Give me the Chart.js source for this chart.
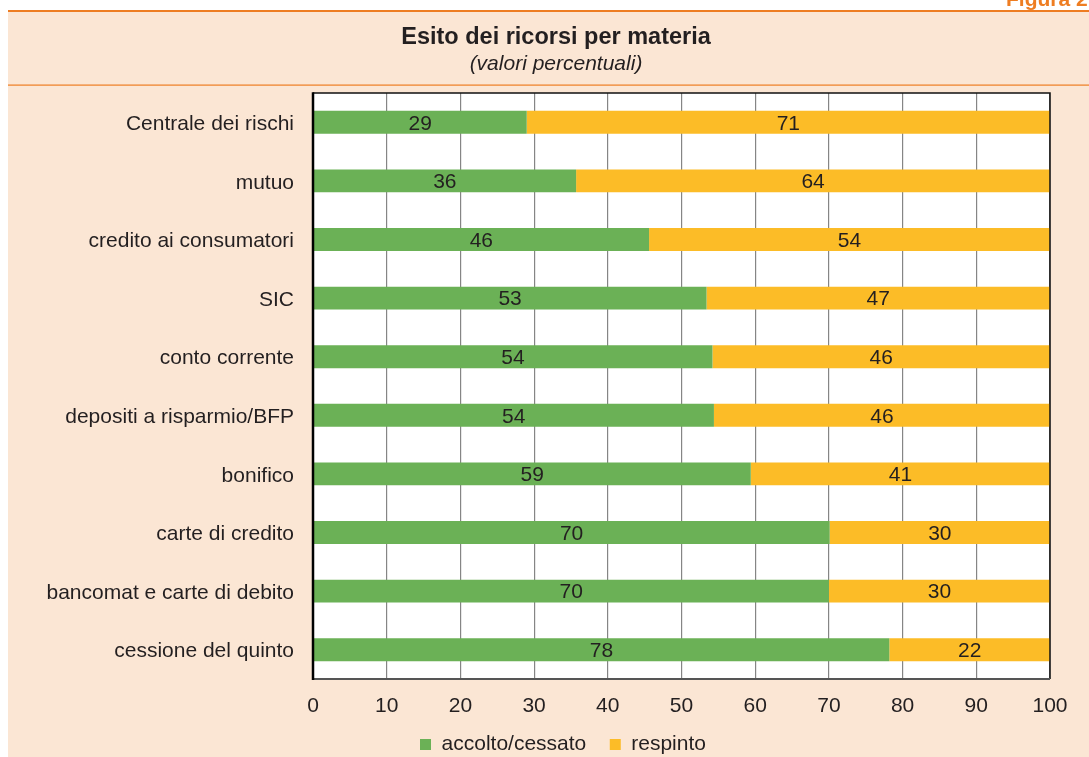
<!DOCTYPE html>
<html lang="it">
<head>
<meta charset="utf-8">
<title>Esito dei ricorsi per materia</title>
<script src="https://cdn.jsdelivr.net/npm/chart.js@4.4.1/dist/chart.umd.min.js"></script>
<style>
  html, body { margin: 0; padding: 0; background: #ffffff; }
  #wrap { width: 1089px; height: 757px; position: relative; }
</style>
</head>
<body>
<div id="wrap"><canvas id="chart"></canvas></div>
<script>
// Dati (valori percentuali)
const categorie = [
  'Centrale dei rischi',
  'mutuo',
  'credito ai consumatori',
  'SIC',
  'conto corrente',
  'depositi a risparmio/BFP',
  'bonifico',
  'carte di credito',
  'bancomat e carte di debito',
  'cessione del quinto'
];
const accolto = [29.0, 35.7, 45.6, 53.4, 54.2, 54.4, 59.4, 70.1, 70.0, 78.2];
const respinto = [71.0, 64.3, 54.4, 46.6, 45.8, 45.6, 40.6, 29.9, 30.0, 21.8];
const etichetteAccolto = [29, 36, 46, 53, 54, 54, 59, 70, 70, 78];
const etichetteRespinto = [71, 64, 54, 47, 46, 46, 41, 30, 30, 22];
const tickX = [0, 10, 20, 30, 40, 50, 60, 70, 80, 90, 100];
const titolo = 'Esito dei ricorsi per materia';
const sottotitolo = '(valori percentuali)';

const FONT = "'Liberation Sans', Arial, Helvetica, sans-serif";
const TESTO = '#231f20';
const PESCA = '#fbe6d4';
const ARANCIO = '#ee7d22';

/**
 * Sfondo, cornice e intestazione della figura
 */
const cornice = {
  id: 'cornice',
  afterLayout(chart) {
    // legenda leggermente spostata a destra come nell'originale
    if (chart.legend) {
      chart.legend.left += 23;
      chart.legend.right += 23;
    }
  },
  beforeDraw(chart) {
    const ctx = chart.ctx;
    const a = chart.chartArea;
    ctx.save();
    ctx.fillStyle = '#ffffff';
    ctx.fillRect(0, 0, chart.width, chart.height);
    ctx.fillStyle = PESCA;
    ctx.fillRect(8, 11, chart.width - 8, chart.height - 11);
    // linea superiore
    ctx.fillStyle = ARANCIO;
    ctx.fillRect(8, 10, chart.width - 8, 2);
    // linea sotto il titolo
    ctx.fillRect(8, 84.5, chart.width - 8, 1.2);
    // etichetta figura
    ctx.font = 'bold 21px ' + FONT;
    ctx.textAlign = 'left';
    ctx.textBaseline = 'alphabetic';
    ctx.fillText('Figura 2.', 1006, 6);
    // titolo e sottotitolo
    ctx.fillStyle = TESTO;
    ctx.textAlign = 'center';
    ctx.textBaseline = 'middle';
    ctx.font = 'bold 23.5px ' + FONT;
    ctx.fillText(titolo, 556, 38);
    ctx.font = 'italic 21px ' + FONT;
    ctx.fillText(sottotitolo, 556, 64);
    // area del grafico
    ctx.fillStyle = '#ffffff';
    ctx.fillRect(a.left, a.top, a.right - a.left, a.bottom - a.top);
    ctx.restore();
  },
  afterDraw(chart) {
    const ctx = chart.ctx;
    const a = chart.chartArea;
    ctx.save();
    ctx.strokeStyle = '#111111';
    ctx.lineWidth = 1.5;
    ctx.beginPath();
    ctx.moveTo(a.left, a.top);
    ctx.lineTo(a.right, a.top);
    ctx.lineTo(a.right, a.bottom);
    ctx.stroke();
    ctx.strokeStyle = '#555555';
    ctx.lineWidth = 2;
    ctx.beginPath();
    ctx.moveTo(a.left, a.bottom);
    ctx.lineTo(a.right, a.bottom);
    ctx.stroke();
    ctx.strokeStyle = '#000000';
    ctx.lineWidth = 2.5;
    ctx.beginPath();
    ctx.moveTo(a.left, a.top - 0.75);
    ctx.lineTo(a.left, a.bottom + 1);
    ctx.stroke();
    ctx.restore();
  }
};

/**
 * Valori al centro di ogni barra
 */
const etichetteBarre = {
  id: 'etichetteBarre',
  afterDatasetsDraw(chart) {
    const ctx = chart.ctx;
    const testi = [etichetteAccolto, etichetteRespinto];
    ctx.save();
    ctx.font = '21px ' + FONT;
    ctx.fillStyle = TESTO;
    ctx.textAlign = 'center';
    ctx.textBaseline = 'middle';
    chart.data.datasets.forEach((ds, i) => {
      const meta = chart.getDatasetMeta(i);
      meta.data.forEach((bar, j) => {
        const p = bar.getCenterPoint();
        ctx.fillText(String(testi[i][j]), p.x, p.y + 1.5);
      });
    });
    ctx.restore();
  }
};

new Chart(document.getElementById('chart'), {
  type: 'bar',
  data: {
    labels: categorie,
    datasets: [
      {
        label: 'accolto/cessato',
        data: accolto,
        backgroundColor: '#6bb156',
        borderWidth: 0,
        categoryPercentage: 1,
        barPercentage: 0.39
      },
      {
        label: 'respinto',
        data: respinto,
        backgroundColor: '#fcbc27',
        borderWidth: 0,
        categoryPercentage: 1,
        barPercentage: 0.39
      }
    ]
  },
  options: {
    indexAxis: 'y',
    responsive: true,
    maintainAspectRatio: false,
    animation: false,
    layout: {
      padding: { top: 93, left: 30, right: 39, bottom: -8 }
    },
    plugins: {
      legend: {
        position: 'bottom',
        labels: {
          color: TESTO,
          font: { family: FONT, size: 21 },
          boxWidth: 11,
          boxHeight: 11,
          padding: 6,
          generateLabels: (chart) => {
            const items = Chart.defaults.plugins.legend.labels.generateLabels(chart);
            items[0].text = items[0].text + '   ';
            return items;
          }
        }
      },
      tooltip: { enabled: false }
    },
    scales: {
      x: {
        stacked: true,
        min: 0,
        max: 100,
        afterBuildTicks: (scale) => {
          scale.ticks = tickX.map(v => ({ value: v }));
        },
        afterFit: (scale) => {
          scale.height = 49;
        },
        grid: {
          color: '#858585',
          lineWidth: 1.2,
          drawTicks: false
        },
        border: { display: false },
        ticks: {
          color: TESTO,
          font: { family: FONT, size: 21 },
          padding: 15,
          maxRotation: 0
        }
      },
      y: {
        stacked: true,
        afterFit: (scale) => {
          scale.width = 283;
        },
        grid: { display: false, drawTicks: false },
        border: { display: false },
        ticks: {
          color: TESTO,
          font: { family: FONT, size: 21 },
          padding: 19,
          labelOffset: 2
        }
      }
    }
  },
  plugins: [cornice, etichetteBarre]
});
</script>
</body>
</html>
